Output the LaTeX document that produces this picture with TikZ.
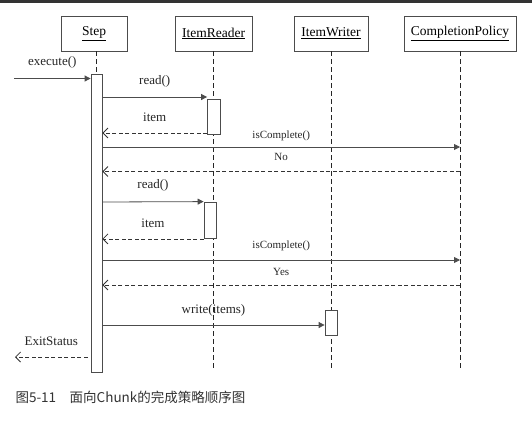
\documentclass[tikz,border=0pt]{standalone}
\usepackage{fontspec}
\setmainfont{Liberation Serif}
\newfontfamily\cjk{Noto Sans CJK SC}
\usetikzlibrary{arrows.meta,positioning,calc}

\begin{document}
\begin{tikzpicture}[
    x=1pt, y=-1pt,
    obj/.style={rectangle, draw=black!70, line width=0.8pt, fill=white, minimum height=35pt, inner sep=0pt, font=\fontsize{13.5}{15}\selectfont},
    act/.style={rectangle, draw=black!70, line width=0.8pt, fill=white, inner sep=0pt},
    life/.style={draw=black!85, line width=0.9pt, dash pattern=on 5pt off 3pt},
    call/.style={draw=black!70, line width=0.8pt, -{Triangle[length=6pt,width=6pt]}},
    ret/.style={draw=black!80, line width=0.8pt, dash pattern=on 4pt off 2.5pt, -{Straight Barb[length=5pt,width=10pt]}},
    msg/.style={midway, yshift=16pt, text=black!85, font=\fontsize{13}{15}\selectfont},
    small/.style={midway, yshift=13pt, text=black!85, font=\fontsize{11}{13}\selectfont}
]
\useasboundingbox (0,0) rectangle (532,421);
\fill[black!80] (0,0) rectangle (532,2.5);

% Objects
\node [obj, minimum width=66pt] (step) at (94,33.5) {\underline{Step}};
\node [obj, minimum width=77pt] (reader) at (213.5,33.5) {\underline{ItemReader}};
\node [obj, minimum width=74pt] (writer) at (331,33.5) {\underline{ItemWriter}};
\node [obj, minimum width=112pt] (policy) at (460,33.5) {\underline{CompletionPolicy}};

% Lifeline ends
\coordinate (readerend) at (reader.south |- 0,369);
\coordinate (writerend) at (writer.south |- 0,369);
\coordinate (policyend) at (policy.south |- 0,369);

% Activations
\node [act, minimum width=11pt, minimum height=298pt] (stepact) at (96.5,223) {};
\draw [life] (stepact.north |- step.south) -- (stepact.north);
\draw [life] (reader.south) -- (readerend);
\draw [life] (writer.south) -- (writerend);
\draw [life] (policy.south) -- (policyend);
\node [act, minimum width=11pt, minimum height=298pt] at (stepact) {};
\node [act, minimum width=12.5pt, minimum height=35pt] (readact1) at (213.75,116.5) {};
\node [act, minimum width=12pt, minimum height=36.5pt] (readact2) at (210,220.25) {};
\node [act, minimum width=12pt, minimum height=24.5pt] (writeact) at (331,323) {};

% Free ends
\coordinate (caller) at (14,78.5);
\coordinate (exit) at (15,357);

% Messages
\path [call] (caller) -- (stepact.west |- caller) node [msg] {execute()};
\path [call] (stepact.east |- 0,97) -- (readact1.west |- 0,97) node [msg] {read()};
\path [ret] (readact1.west |- 0,133) -- (stepact.east |- 0,133) node [msg] {item};
\path [call] (stepact.east |- 0,147) -- (policyend |- 0,147) node [small, yshift=-2pt] {isComplete()};
\path [ret] (policyend |- 0,171.5) -- (stepact.east |- 0,171.5) node [small, yshift=1.5pt] {No};
\path [call] (stepact.east |- 0,202) -- (readact2.north west) node [msg] {read()};
\path [ret] (readact2.south west) -- (stepact.east |- readact2.south west) node [msg] {item};
\path [call] (stepact.east |- 0,260) -- (policyend |- 0,260) node [small, yshift=1pt] {isComplete()};
\path [ret] (policyend |- 0,285) -- (stepact.east |- 0,285) node [small] {Yes};
\path [call] (stepact.east |- 0,325) -- (writeact.west |- 0,325) node [msg, yshift=-1pt] {write(items)};
\path [ret] (stepact.west |- exit) ++(-3,0) -- (exit) node [msg] {ExitStatus};

% Caption
\node [anchor=west, text=black!80, font=\cjk\fontsize{13.5}{15}\selectfont] (caption) at (12,397) {图5-11　面向Chunk的完成策略顺序图};

\end{tikzpicture}
\end{document}
